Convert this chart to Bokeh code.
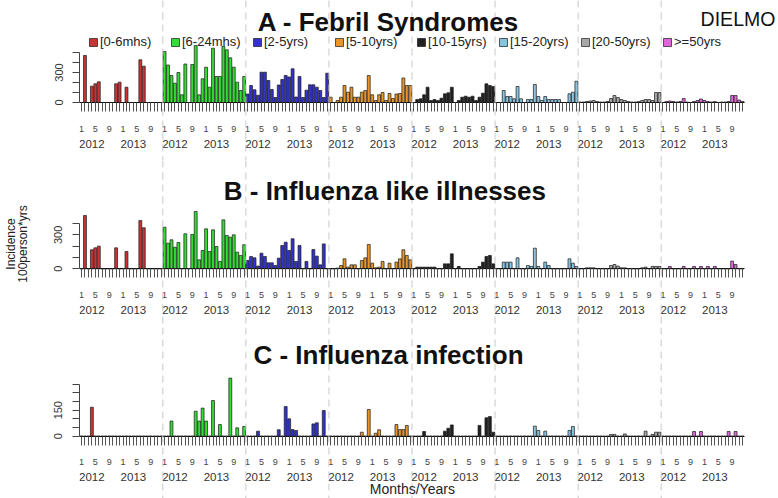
from bokeh.plotting import figure
from bokeh.models import (Range1d, LinearAxis, FixedTicker, Span, Label, Legend, LegendItem)
from bokeh.layouts import column
from bokeh.embed import file_html
from bokeh.resources import INLINE

# ---------------- data ----------------
groups = ["[0-6mhs)", "[6-24mhs)", "[2-5yrs)", "[5-10yrs)",
          "[10-15yrs)", "[15-20yrs)", "[20-50yrs)", ">=50yrs"]
colors = ["#CC3333", "#33DD33", "#3333CC", "#E8952A",
          "#222222", "#88C4E0", "#A8A8A8", "#DD66DD"]
months_per_group = 24
month_tick_labels = {0: "1", 4: "5", 8: "9", 12: "1", 16: "5", 20: "9"}
year_labels = ["2012", "2013"]

# A - Febril Syndromes (incidence per 100 person*yrs, 24 months each)
a_0_6m = [0, 470, 0, 163, 187, 207, 0, 0, 0, 0, 187, 203, 0, 153, 0, 0, 0, 427, 363, 0, 0, 0, 0, 0]
a_6_24m = [510, 375, 270, 193, 300, 77, 385, 0, 380, 570, 77, 237, 353, 153, 543, 260, 260, 560, 527, 447, 353, 203, 120, 260]
a_2_5y = [85, 170, 127, 73, 303, 303, 220, 130, 50, 175, 230, 270, 255, 337, 55, 260, 50, 123, 177, 177, 153, 120, 50, 293]
a_5_10y = [53, 0, 20, 53, 170, 103, 153, 53, 53, 103, 120, 270, 77, 20, 77, 100, 20, 90, 40, 85, 90, 245, 170, 170]
a_10_15y = [0, 30, 37, 77, 153, 20, 30, 20, 43, 87, 97, 153, 0, 20, 53, 63, 53, 63, 20, 53, 93, 187, 170, 160]
a_15_20y = [0, 0, 120, 60, 60, 37, 160, 37, 0, 30, 30, 180, 60, 20, 60, 30, 30, 30, 30, 0, 0, 87, 103, 213]
a_20_50y = [5, 5, 10, 15, 20, 10, 5, 5, 10, 40, 70, 50, 30, 20, 10, 5, 5, 10, 20, 30, 30, 20, 100, 100]
a_50p = [0, 10, 15, 10, 5, 10, 40, 5, 0, 10, 20, 35, 20, 10, 5, 10, 0, 5, 5, 10, 70, 70, 25, 10]

# B - Influenza like illnesses
b_0_6m = [0, 470, 0, 168, 185, 200, 0, 0, 0, 0, 185, 0, 0, 153, 0, 0, 0, 426, 362, 0, 0, 0, 0, 0]
b_6_24m = [367, 226, 256, 191, 232, 0, 309, 0, 303, 506, 79, 162, 353, 153, 344, 197, 65, 432, 294, 279, 300, 147, 118, 212]
b_2_5y = [74, 109, 97, 24, 138, 109, 53, 53, 29, 94, 206, 235, 162, 265, 65, 206, 0, 65, 0, 170, 112, 35, 220, 0]
b_5_10y = [0, 0, 6, 29, 88, 15, 35, 35, 0, 73, 97, 215, 50, 9, 15, 65, 0, 50, 0, 59, 88, 168, 118, 79]
b_10_15y = [0, 15, 15, 15, 15, 15, 15, 0, 0, 44, 44, 132, 0, 21, 0, 0, 0, 0, 0, 21, 59, 109, 118, 44]
b_15_20y = [0, 0, 59, 59, 59, 0, 97, 0, 0, 29, 21, 182, 21, 0, 59, 29, 0, 0, 0, 0, 0, 88, 50, 21]
b_20_50y = [0, 0, 9, 9, 9, 0, 0, 0, 0, 29, 38, 24, 9, 9, 0, 0, 0, 0, 9, 15, 0, 21, 21, 21]
b_50p = [0, 0, 21, 0, 0, 0, 21, 0, 0, 21, 0, 21, 0, 21, 0, 21, 0, 0, 0, 0, 68, 38, 0, 0]

# C - Influenza infection
c_0_6m = [0, 0, 0, 167, 0, 0, 0, 0, 0, 0, 0, 0, 0, 0, 0, 0, 0, 0, 0, 0, 0, 0, 0, 0]
c_6_24m = [0, 0, 87, 0, 0, 0, 0, 0, 0, 144, 87, 162, 87, 0, 206, 0, 67, 0, 0, 335, 0, 48, 0, 56]
c_2_5y = [0, 0, 0, 29, 0, 0, 0, 0, 0, 37, 0, 171, 100, 38, 33, 0, 0, 0, 0, 71, 77, 0, 148, 0]
c_5_10y = [0, 0, 0, 0, 0, 0, 0, 0, 0, 23, 0, 154, 0, 17, 37, 0, 0, 0, 0, 67, 38, 38, 62, 0]
c_10_15y = [0, 0, 0, 27, 0, 0, 0, 0, 0, 29, 46, 65, 0, 0, 0, 0, 0, 0, 0, 62, 0, 106, 113, 23]
c_15_20y = [0, 0, 0, 0, 0, 0, 0, 0, 0, 0, 0, 58, 33, 0, 29, 0, 0, 0, 0, 0, 0, 33, 56, 0]
c_20_50y = [0, 0, 0, 0, 0, 0, 0, 0, 0, 10, 10, 0, 0, 13, 0, 0, 0, 0, 0, 29, 0, 10, 23, 23]
c_50p = [0, 0, 0, 0, 0, 0, 0, 0, 0, 27, 0, 27, 0, 0, 0, 0, 0, 0, 0, 27, 0, 27, 0, 0]

# ---------------- layout constants ----------------
W = 778
FRAME_LEFT = 77
X0, X1 = -0.576, 201.4
FONT = "Liberation Sans"
n_groups = len(groups)
n_total = n_groups * months_per_group

panels = [
    dict(series=[a_0_6m, a_6_24m, a_2_5y, a_5_10y, a_10_15y, a_15_20y, a_20_50y, a_50p],
         height=160, yrange=(-580, 1020), top=500, step=100, labeled=(0, 300),
         title="A - Febril Syndromes", title_y=805),
    dict(series=[b_0_6m, b_6_24m, b_2_5y, b_5_10y, b_10_15y, b_15_20y, b_20_50y, b_50p],
         height=167, yrange=(-518, 956), top=400, step=100, labeled=(0, 300),
         title="B -  Influenza like illnesses", title_y=691),
    dict(series=[c_0_6m, c_6_24m, c_2_5y, c_5_10y, c_10_15y, c_15_20y, c_20_50y, c_50p],
         height=171, yrange=(-359.5, 627), top=300, step=50, labeled=(0, 150),
         title="C - Influenza infection", title_y=466),
]


def label_axis(text, standoff, bounds):
    return LinearAxis(ticker=FixedTicker(ticks=[]), bounds=bounds,
                      axis_line_color=None, major_tick_line_color=None,
                      minor_tick_line_color=None, major_label_text_font_size="0px",
                      axis_label=text, axis_label_standoff=standoff,
                      axis_label_text_font=FONT, axis_label_text_font_size="12px",
                      axis_label_text_font_style="normal",
                      axis_label_text_color="#222222")


figs = []
for pi_, cfg in enumerate(panels):
    p = figure(width=W, height=cfg["height"],
               x_range=Range1d(X0, X1), y_range=Range1d(*cfg["yrange"]),
               output_backend="svg", toolbar_location=None,
               x_axis_type=None, y_axis_type=None,
               min_border_left=FRAME_LEFT, min_border_right=0,
               min_border_top=0, min_border_bottom=0)
    p.outline_line_color = None
    p.background_fill_color = "white"
    p.border_fill_color = "white"

    # group separators
    for g in range(1, n_groups):
        p.add_layout(Span(location=g * months_per_group - 0.5, dimension="height",
                          line_color="#C8C8C8", line_width=1, line_dash="7 5"))

    renderers = []
    for g, vals in enumerate(cfg["series"]):
        xs = [g * months_per_group + k for k in range(months_per_group)]
        r = p.vbar(x=xs, top=vals, bottom=0, width=0.84,
                   fill_color=colors[g], line_color="#1a1a1a", line_width=0.7)
        renderers.append(r)

    # y axis
    yticks = list(range(0, cfg["top"] + 1, cfg["step"]))
    yax = LinearAxis(ticker=FixedTicker(ticks=yticks), bounds=(0, cfg["top"]),
                     major_label_overrides={t: (str(t) if t in cfg["labeled"] else "") for t in yticks},
                     major_label_orientation="vertical",
                     major_tick_out=7, major_tick_in=0, minor_tick_out=0,
                     major_label_standoff=10,
                     axis_line_color="#444444", major_tick_line_color="#444444",
                     major_label_text_font=FONT, major_label_text_font_size="11px",
                     major_label_text_color="#333333")
    p.add_layout(yax, "left")

    # month axis at y = 0
    mticks = list(range(n_total))
    mlabels = {t: month_tick_labels.get(t % months_per_group, "") for t in mticks}
    xax = LinearAxis(ticker=FixedTicker(ticks=mticks), fixed_location=0,
                     bounds=(-0.45, n_total - 0.55),
                     major_label_overrides=mlabels,
                     major_tick_out=9, major_tick_in=0, minor_tick_out=0,
                     major_label_standoff=14,
                     axis_line_color="#111111", major_tick_line_color="#555555",
                     major_label_text_font=FONT, major_label_text_font_size="9px",
                     major_label_text_color="#444444")
    p.add_layout(xax, "below")

    # year axis
    yr_ticks, yr_lab = [], {}
    for g in range(n_groups):
        for j, yl in enumerate(year_labels):
            t = g * months_per_group + 3 + 12 * j
            yr_ticks.append(t)
            yr_lab[t] = yl
    yax2 = LinearAxis(ticker=FixedTicker(ticks=yr_ticks), fixed_location=0,
                      major_label_overrides=yr_lab,
                      major_tick_out=0, major_tick_in=0, minor_tick_out=0,
                      major_label_standoff=37,
                      axis_line_color=None, major_tick_line_color=None,
                      major_label_text_font=FONT, major_label_text_font_size="11.5px",
                      major_label_text_color="#333333")
    p.add_layout(yax2, "below")

    p.add_layout(Label(x=88.7, y=cfg["title_y"], text=cfg["title"],
                       text_align="center", text_baseline="middle",
                       text_font=FONT, text_font_size="26px", text_font_style="bold",
                       text_color="#111111"))

    if pi_ == 0:
        p.add_layout(Label(x=200.5, y=837, text="DIELMO", text_align="right",
                           text_baseline="middle", text_font=FONT,
                           text_font_size="19.5px", text_color="#111111"))
        legend = Legend(items=[LegendItem(label=groups[g], renderers=[renderers[g]])
                               for g in range(n_groups)],
                        orientation="horizontal", location=(9, 111),
                        glyph_width=10, glyph_height=10, label_standoff=2,
                        label_width=66, label_height=12, spacing=4, padding=0, margin=0,
                        border_line_color=None, background_fill_alpha=0,
                        label_text_font=FONT, label_text_font_size="13px",
                        label_text_color="#222222")
        p.add_layout(legend)
    if pi_ == 1:
        p.add_layout(label_axis("100person*yrs", 22, (0, 570)), "left")
        p.add_layout(label_axis("Incidence", -5, (0, 570)), "left")
    if pi_ == 2:
        p.add_layout(Label(x=95.6, y=-307, text="Months/Years",
                           text_align="center", text_baseline="middle",
                           text_font=FONT, text_font_size="14px", text_color="#222222"))
    figs.append(p)

layout = column(*figs, spacing=0)
open("out.html", "w").write(file_html(layout, INLINE))
